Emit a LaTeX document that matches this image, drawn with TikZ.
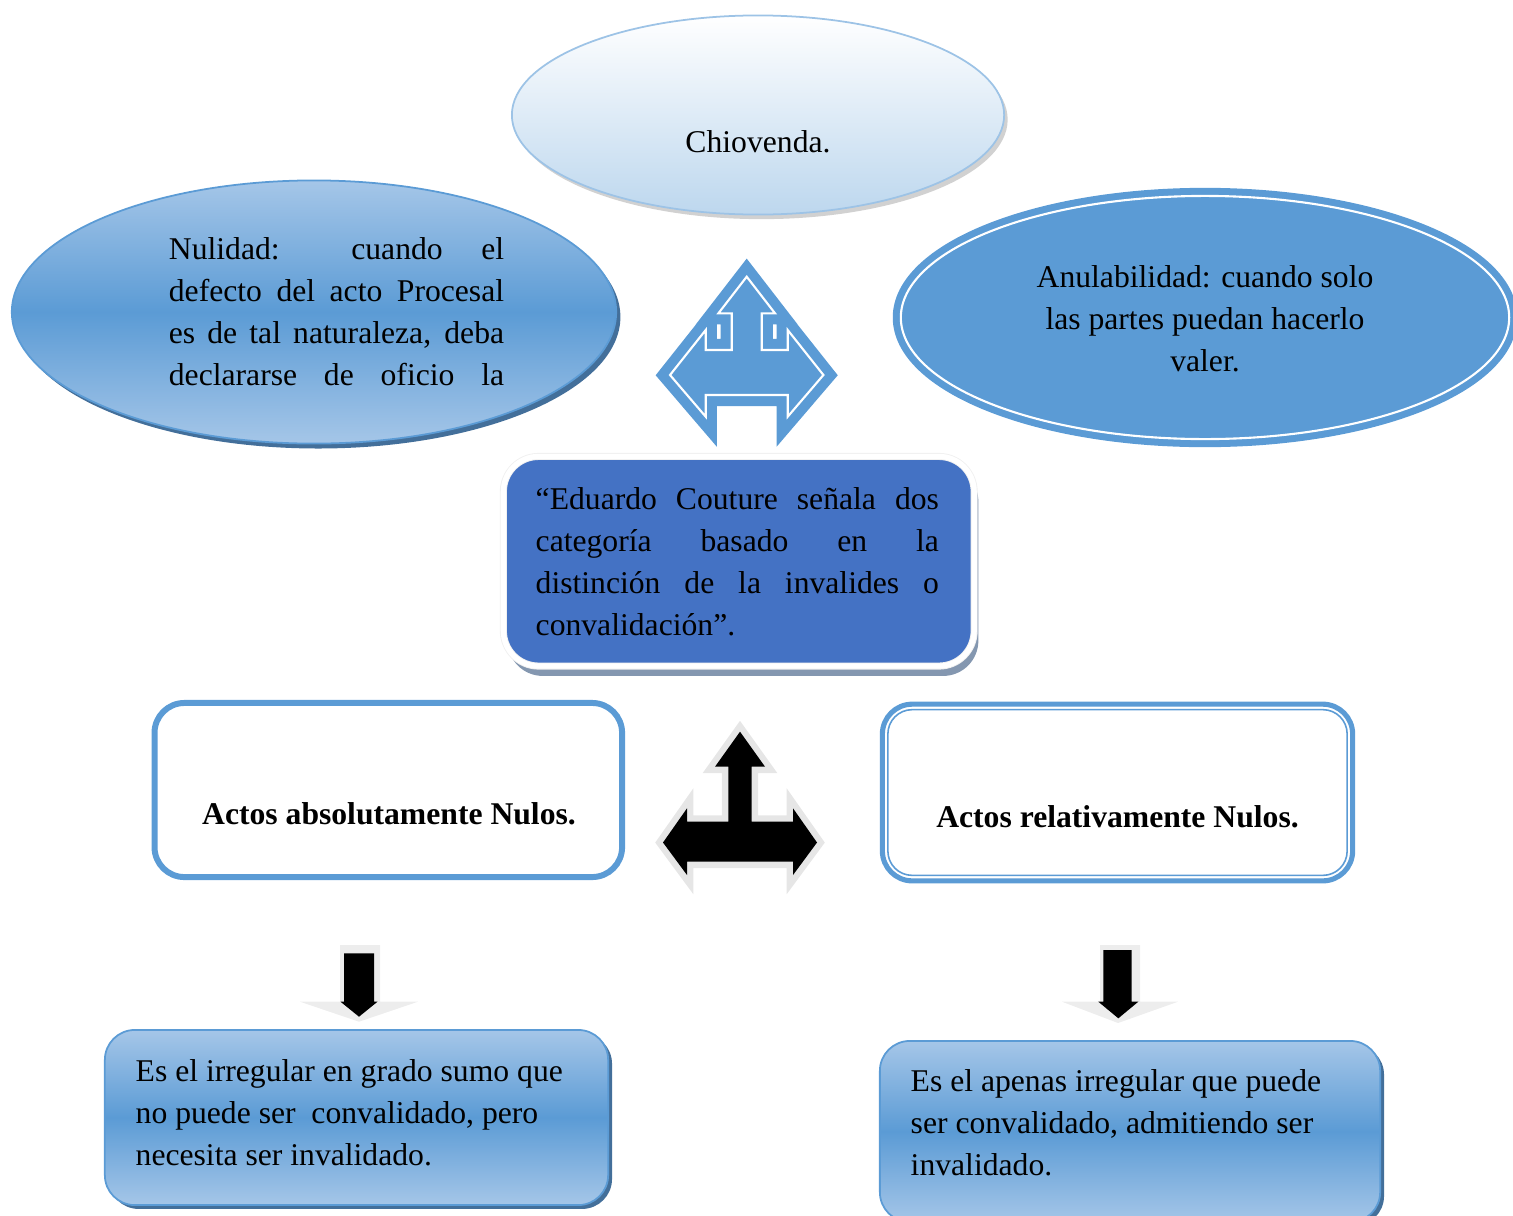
\documentclass[tikz,border=0pt]{standalone}
\usepackage{fontspec}
\setmainfont{Liberation Serif}
\usetikzlibrary{shapes.geometric,shadows,calc}

\definecolor{paleblue}{HTML}{BDD7EE}
\definecolor{edgeblue}{HTML}{9DC3E6}
\definecolor{softblue}{HTML}{A5C6E8}
\definecolor{midblue}{HTML}{5B9BD5}
\definecolor{royalblue}{HTML}{4472C4}
\definecolor{navyshade}{HTML}{2F5F8F}
\definecolor{slateshade}{HTML}{8497B0}
\definecolor{bevelgrey}{HTML}{E6E6E6}

\tikzset{
  txt/.style={inner sep=0pt, font=\fontsize{9pt}{11.95pt}\selectfont},
  oval/.style={shape=ellipse, inner sep=0pt, outer sep=0pt},
  card/.style={shape=rectangle, inner sep=0pt, outer sep=0pt, rounded corners=8.5pt},
  bluegrad/.style={top color=softblue, bottom color=softblue, middle color=midblue},
}

\begin{document}
\begin{tikzpicture}[x=0.01cm, y=-0.01cm]
\useasboundingbox (0,0) rectangle (1513,1215);
\clip (0,0) rectangle (1513,1215);

% three ellipses
\node[oval, draw=edgeblue, line width=0.5pt, top color=white, bottom color=paleblue, minimum width=4.92cm, minimum height=1.99cm, drop shadow={shadow xshift=1pt, shadow yshift=-1.3pt, fill=gray!60, opacity=0.6}] (chiov) at (758,115) {};
\node[txt] (chiovtxt) at (758,142) {Chiovenda.};

\node[oval, draw=midblue, line width=0.5pt, bluegrad, minimum width=6.04cm, minimum height=2.63cm, drop shadow={shadow xshift=1.2pt, shadow yshift=-1.4pt, fill=navyshade, opacity=0.9}] (nul) at (314,312) {};
\node[txt, align=left] (nultxt) at (336.5,311.5) {\makebox[3.35cm][s]{Nulidad: cuando el}\\
  \makebox[3.35cm][s]{defecto del acto Procesal}\\
  \makebox[3.35cm][s]{es de tal naturaleza, deba}\\
  \makebox[3.35cm][s]{declararse de oficio la}};

\node[oval, fill=midblue, draw=midblue, line width=2pt, double=white, double distance=0.6pt, minimum width=6.08cm, minimum height=2.43cm] (anul) at (1205,317.5) {};
\node[txt, align=center] (anultxt) at (1205,319) {Anulabilidad: cuando solo\\las partes puedan hacerlo\\valer.};

% blue fork arrow
\draw[white, line width=0.6pt, line join=miter, preaction={draw=midblue, fill=midblue, line width=6.3pt, line join=miter}] (746.7,276.7) -- (775,313.3) -- (761.7,313.3) -- (761.7,350) -- (787.7,350) -- (787.7,330) -- (823.4,375) -- (787.7,416.7) -- (787.7,395) -- (705.7,395) -- (705.7,416.7) -- (670,375) -- (705.7,330) -- (705.7,350) -- (731.7,350) -- (731.7,313.3) -- (718.4,313.3) -- cycle;

% central box
\node[card, rounded corners=10pt, fill=royalblue, draw=gray!12, line width=0.25pt, double=white, double distance=1.5pt, minimum width=4.705cm, minimum height=2.095cm, drop shadow={shadow xshift=1.2pt, shadow yshift=-2.8pt, fill=slateshade, opacity=1}] (edu) at (738.75,561.25) {};
\node[txt, anchor=west, align=left] (edutxt) at (535,562) {\makebox[4.03cm][s]{“Eduardo Couture señala dos}\\
  \makebox[4.03cm][s]{categoría basado en la}\\
  \makebox[4.03cm][s]{distinción de la invalides o}\\
  convalidación”.};

% black fork arrow
\fill[black, preaction={draw=bevelgrey, line width=3.6pt, line join=miter}] (740,731.7) -- (765,766.7) -- (751.7,766.7) -- (751.7,821.7) -- (793,821.7) -- (793,808.3) -- (817,842.5) -- (793,875) -- (793,861.7) -- (687,861.7) -- (687,875) -- (663,842.5) -- (687,808.3) -- (687,821.7) -- (728.3,821.7) -- (728.3,766.7) -- (715,766.7) -- cycle;

% two categories
\node[card, draw=midblue, line width=1.7pt, fill=white, minimum width=4.673cm, minimum height=1.74cm] (abs) at (388.3,790) {};
\node[txt] (abstxt) at (389,814) {\textbf{Actos absolutamente Nulos.}};

\node[card, draw=midblue, line width=1.45pt, fill=white, minimum width=4.70cm, minimum height=1.766cm] (rel) at (1117.5,792.5) {};
\draw[midblue, line width=0.45pt, rounded corners=6.9pt] ($(rel.north west)+(5.5,5.5)$) rectangle ($(rel.south east)+(-5.5,-5.5)$);
\node[txt] (reltxt) at (1117.5,817) {\textbf{Actos relativamente Nulos.}};

% down arrows
\fill[gray!14] (340,945) -- (380,945) -- (380,1001.7) -- (418,1001.7) -- (359,1021.7) -- (300,1001.7) -- (340,1001.7) -- cycle;
\fill[black] (344,953.3) -- (374,953.3) -- (374,1001.7) -- (377.5,1001.7) -- (359,1016.7) -- (340.5,1001.7) -- (344,1001.7) -- cycle;

\fill[gray!14] (1100,945) -- (1140,945) -- (1140,1001.7) -- (1178,1001.7) -- (1118,1023) -- (1062,1001.7) -- (1100,1001.7) -- cycle;
\fill[black] (1103.3,950) -- (1131.7,950) -- (1131.7,1001.7) -- (1138.3,1001.7) -- (1118.3,1018.3) -- (1098.3,1001.7) -- (1103.3,1001.7) -- cycle;

% definitions
\node[card, draw=midblue, line width=0.5pt, bluegrad, minimum width=5.03cm, minimum height=1.75cm, drop shadow={shadow xshift=1.1pt, shadow yshift=-1.1pt, fill=navyshade, opacity=0.9}] (absdef) at (356.5,1117.5) {};
\node[txt, anchor=west, align=left] (absdeftxt) at (135,1112.5) {Es el irregular en grado sumo que\\no puede ser\ \ convalidado, pero\\necesita ser invalidado.};

\node[card, draw=midblue, line width=0.5pt, bluegrad, minimum width=5.0cm, minimum height=1.81cm, drop shadow={shadow xshift=1.1pt, shadow yshift=-1.1pt, fill=navyshade, opacity=0.9}] (reldef) at (1130,1131.5) {};
\node[txt, anchor=west, align=left] (reldeftxt) at (910,1122.5) {Es el apenas irregular que puede\\ser convalidado, admitiendo ser\\invalidado.};
\end{tikzpicture}
\end{document}
